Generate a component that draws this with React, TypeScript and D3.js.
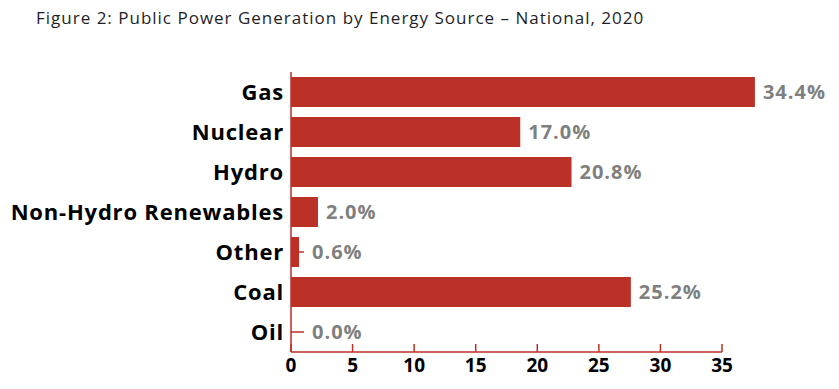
import { useMemo } from 'react'
import { scaleBand, scaleLinear } from 'd3'

// Figure 2 — public power generation share by source (national, 2020).
// Note: in the source the bar lengths and the tick row don't share a scale
// (35 on the axis sits left of where a 35% bar would end), so two scales are kept.

const categories = ['Gas', 'Nuclear', 'Hydro', 'Non-Hydro Renewables', 'Other', 'Coal', 'Oil']
const shares = [34.4, 17.0, 20.8, 2.0, 0.6, 25.2, 0.0]
const tickValues = [0, 5, 10, 15, 20, 25, 30, 35]

const W = 839
const H = 389
const X0 = 291
const TOP = 72
const BOTTOM = 352
const RED = '#bb3127'
const GREY = '#7f7f7f'
const FONT = '"Open Sans", Lato, sans-serif'

export default function App() {
  const barX = useMemo(() => scaleLinear().domain([0, 35]).range([X0, X0 + 472]), [])
  const axisX = useMemo(() => scaleLinear().domain([0, 35]).range([X0, X0 + 431]), [])
  const y = useMemo(
    () => scaleBand().domain(categories).range([TOP, BOTTOM]).paddingInner(0.25).paddingOuter(0.125),
    [],
  )

  return (
    <svg width={W} height={H} style={{ position: 'absolute', left: 0, top: 0 }} fontFamily={FONT}>
      <rect width={W} height={H} fill="#fff" />
      <text x={36} y={24} fontSize={17} letterSpacing={1} fill="#1e1e28">
        Figure 2: Public Power Generation by Energy Source – National, 2020
      </text>

      {categories.map((c, i) => {
        const by = y(c) ?? 0
        const cy = by + y.bandwidth() / 2
        return (
          <g key={c}>
            <line x1={X0} x2={X0 + 13} y1={cy} y2={cy} stroke={RED} strokeWidth={1.5} />
            <rect x={X0} y={by} width={barX(shares[i]) - X0} height={y.bandwidth()} fill={RED} />
            <text
              x={284}
              y={cy}
              dy="0.35em"
              textAnchor="end"
              fontSize={22}
              fontWeight={700}
              letterSpacing={0.8}
              fill="#000"
            >
              {c}
            </text>
            <text
              x={Math.max(barX(shares[i]), X0 + 13) + 8}
              y={cy}
              dy="0.35em"
              fontSize={20}
              fontWeight={700}
              letterSpacing={1}
              fill={GREY}
            >
              {shares[i].toFixed(1)}%
            </text>
          </g>
        )
      })}

      <line x1={X0} x2={X0} y1={TOP} y2={BOTTOM} stroke={RED} strokeWidth={1.5} />
      <line x1={X0} x2={axisX(35)} y1={BOTTOM} y2={BOTTOM} stroke={RED} strokeWidth={1.5} />
      {tickValues.map((t) => (
        <g key={t}>
          <line x1={axisX(t)} x2={axisX(t)} y1={BOTTOM} y2={BOTTOM - 8} stroke={RED} strokeWidth={1.5} />
          <text x={axisX(t)} y={BOTTOM + 20} textAnchor="middle" fontSize={19} fontWeight={700} fill="#000">
            {t}
          </text>
        </g>
      ))}
    </svg>
  )
}
